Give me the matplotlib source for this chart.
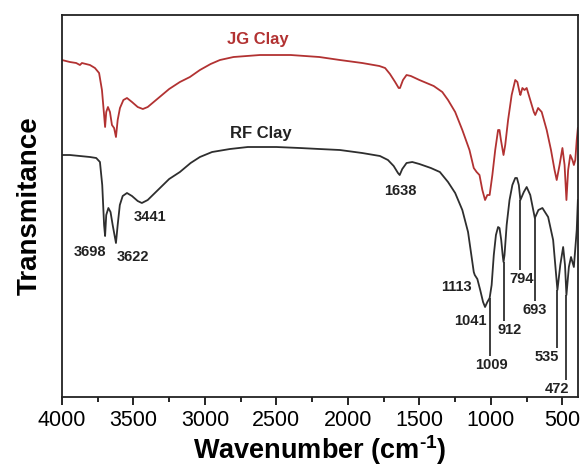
#!/usr/bin/env python3
"""FTIR spectra of JG and RF clay, redrawn with matplotlib."""

import matplotlib

matplotlib.use("Agg")
import matplotlib.pyplot as plt
import numpy as np

plt.rcParams["font.family"] = ["Liberation Sans", "DejaVu Sans"]
plt.rcParams["mathtext.fontset"] = "custom"
plt.rcParams["mathtext.rm"] = "Liberation Sans:bold"
plt.rcParams["mathtext.bf"] = "Liberation Sans:bold"
plt.rcParams["mathtext.it"] = "Liberation Sans:bold"

# RF clay (black), wavenumber in cm-1, transmittance in arbitrary units
rf_wn = [4000, 3944, 3874, 3804, 3760, 3734, 3718, 3705, 3698, 3690, 3675, 3660,
         3645, 3622, 3610, 3595, 3575, 3545, 3510, 3470, 3441, 3400, 3350, 3300,
         3250, 3175, 3100, 3035, 2950, 2825, 2700, 2500, 2336, 2200, 2056, 1900,
         1776, 1720, 1680, 1650, 1638, 1620, 1590, 1550, 1500, 1420, 1357, 1300,
         1250, 1200, 1160, 1130, 1120, 1113, 1095, 1075, 1055, 1041, 1025, 1009,
         995, 980, 965, 950, 940, 928, 918, 912, 905, 890, 870, 850, 830, 818,
         805, 794, 770, 750, 725, 693, 668, 640, 600, 565, 535, 515, 495, 482,
         472, 455, 440, 420, 400, 392]
rf_t = [242, 242, 241, 240, 239, 235, 212, 172, 161, 182, 189, 185,
        172, 154, 172, 192, 201, 204, 201, 196, 194, 197, 204, 211,
        218, 225, 234, 240, 245, 248, 250, 250, 249, 248, 247, 244,
        241, 237, 231, 224, 222, 228, 234, 235, 233, 229, 225, 215,
        204, 187, 165, 135, 125, 122, 118, 107, 95, 90, 95, 99,
        112, 142, 162, 170, 169, 157, 142, 135, 142, 172, 197, 212, 219, 219,
        212, 197, 205, 210, 202, 179, 187, 189, 180, 157, 107, 132, 150, 132,
        102, 130, 140, 130, 167, 197]

# JG clay (red)
jg_wn = [4000, 3944, 3900, 3874, 3860, 3804, 3769, 3740, 3720, 3705, 3698, 3690,
         3678, 3664, 3650, 3635, 3622, 3610, 3594, 3570, 3545, 3510, 3470, 3434,
         3400, 3350, 3300, 3250, 3175, 3105, 3035, 2960, 2895, 2800, 2615, 2400,
         2200, 2056, 1900, 1780, 1740, 1706, 1670, 1645, 1636, 1615, 1590, 1560,
         1500, 1400, 1340, 1300, 1250, 1200, 1150, 1120, 1100, 1080, 1060, 1041,
         1025, 1009, 990, 970, 950, 940, 930, 912, 900, 880, 855, 830, 815, 800,
         794, 780, 765, 750, 725, 700, 690, 670, 645, 610, 580, 555, 540, 520,
         500, 485, 472, 460, 445, 430, 420, 410, 400, 392]
jg_t = [337, 335, 334, 332, 334, 332, 329, 324, 307, 282, 270, 285,
        290, 285, 272, 269, 260, 277, 289, 297, 299, 295, 290, 288,
        290, 296, 302, 308, 315, 320, 327, 333, 337, 340, 342, 342,
        340, 337, 334, 331, 329, 323, 315, 309, 309, 317, 322, 321,
        317, 311, 305, 297, 285, 267, 247, 229, 225, 222, 207, 197,
        202, 202, 222, 247, 267, 267, 257, 242, 252, 277, 302, 317, 315, 305,
        302, 309, 307, 309, 297, 285, 282, 289, 285, 267, 247, 227, 217, 232,
        249, 232, 197, 227, 242, 237, 232, 237, 257, 269]

# peak labels: text, label position (wavenumber, transmittance), leader line or not
peak_text = ["3698", "3622", "3441", "1638", "1113", "1041", "1009", "912",
             "794", "693", "535", "472"]
peak_wn = [3698, 3622, 3441, 1638, 1113, 1041, 1009, 912, 794, 693, 535, 472]
label_wn = [3804, 3504, 3385, 1636, 1238, 1147, 993, 867, 783, 692, 608, 538]
label_t = [145, 140, 180, 206, 110, 76, 32, 67, 118, 87, 40, 8]
has_line = [False, False, False, False, False, False, True, True, True, True, True, True]

fig = plt.figure(figsize=(5.84, 4.69), dpi=100)
ax = fig.add_axes([0.106, 0.1535, 0.884, 0.8145])

ax.plot(jg_wn, jg_t, color="#b23232", linewidth=1.3)
ax.plot(rf_wn, rf_t, color="#2e2e2e", linewidth=1.3)

rf_wn_sorted = np.array(rf_wn[::-1])
rf_t_sorted = np.array(rf_t[::-1])
for text, wn, lx, ly, line in zip(peak_text, peak_wn, label_wn, label_t, has_line):
    ax.text(lx, ly, text, ha="center", va="center", fontsize=10.5,
            fontweight="bold", color="#222222")
    if line:
        top = np.interp(wn, rf_wn_sorted, rf_t_sorted)
        ax.vlines(wn, ly + 9, top, color="#2e2e2e", linewidth=1.3)

ax.text(2629, 358, "JG Clay", ha="center", va="center", fontsize=12,
        fontweight="bold", color="#b23232")
ax.text(2608, 264, "RF Clay", ha="center", va="center", fontsize=12,
        fontweight="bold", color="#222222")

ax.set_xlim(4000, 390)
ax.set_ylim(0, 382)
ax.set_xticks(np.arange(4000, 499, -500))
ax.set_xticks(np.arange(3750, 499, -500), minor=True)
ax.set_yticks([])
ax.tick_params(axis="x", which="major", direction="out", length=6, width=1.2,
               labelsize=15.5, pad=3)
ax.tick_params(axis="x", which="minor", direction="out", length=3.5, width=1.2)
for spine in ax.spines.values():
    spine.set_linewidth(1.3)
    spine.set_color("#222222")

ax.set_xlabel(r"Wavenumber (cm$^{\text{-}1}$)", fontsize=19.5,
              fontweight="bold", labelpad=2)
ax.set_ylabel("Transmitance", fontsize=20, fontweight="bold", labelpad=14)

fig.savefig("out.png", dpi=100)
plt.close(fig)
